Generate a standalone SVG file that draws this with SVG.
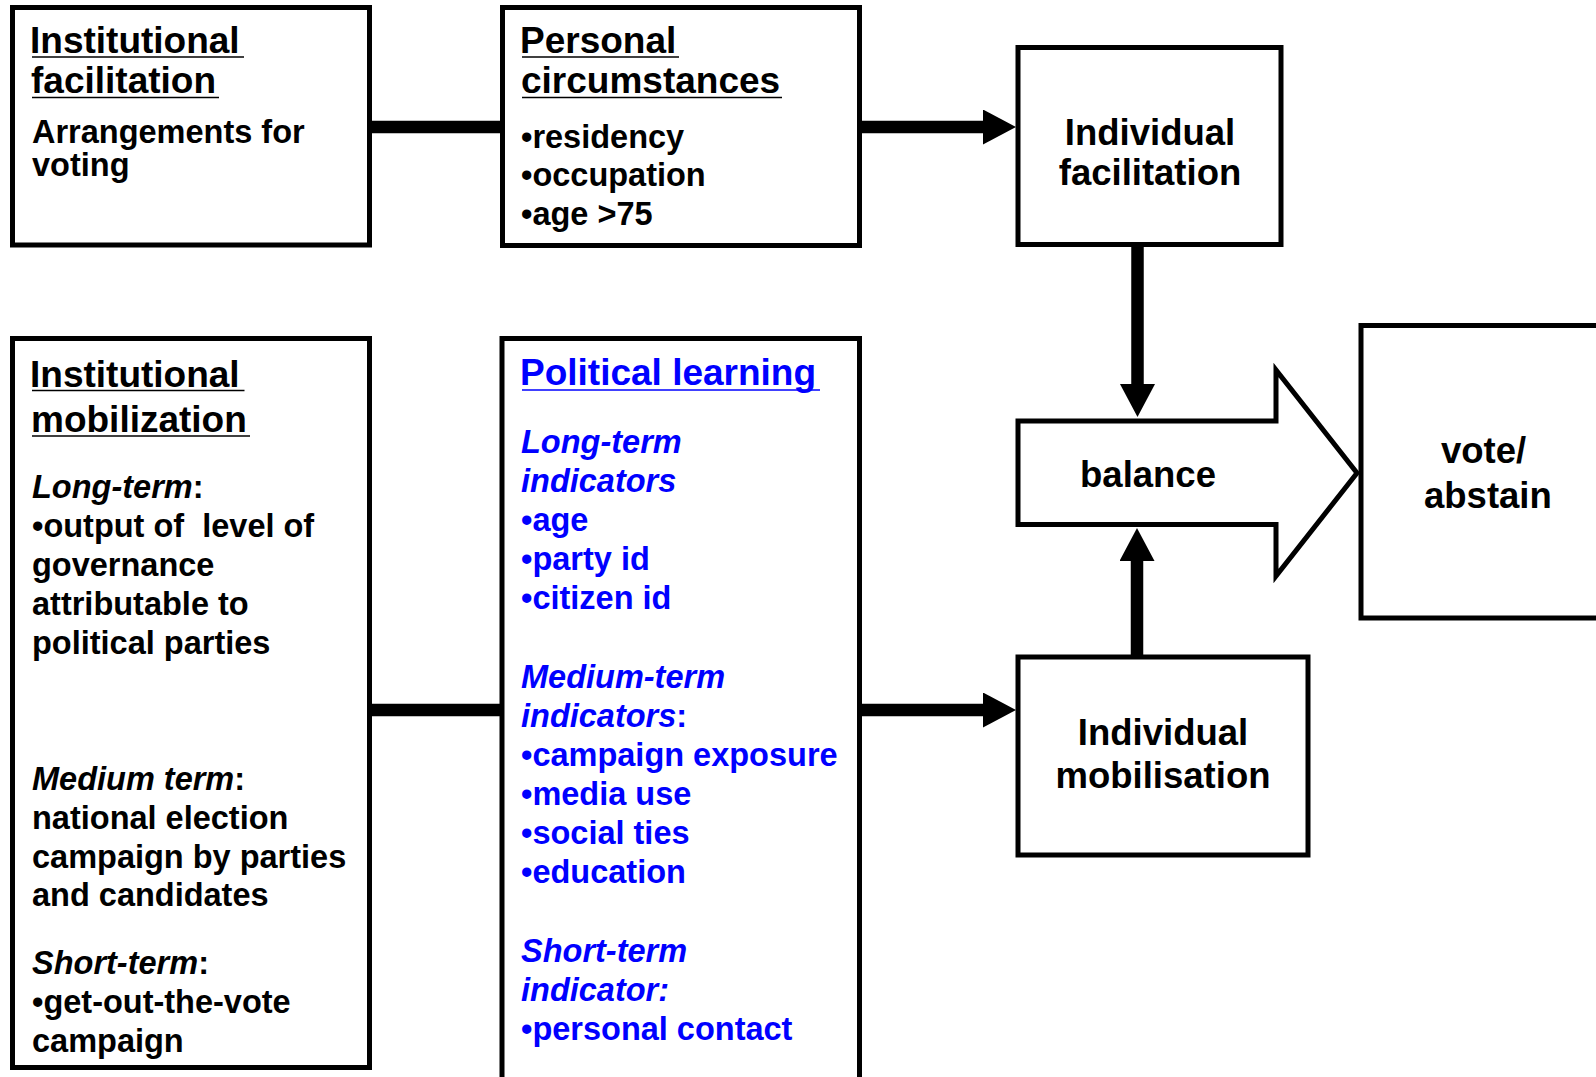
<svg xmlns="http://www.w3.org/2000/svg" width="1596" height="1077" viewBox="0 0 1596 1077">
<style>
.t{font-family:"Liberation Sans",Arial,sans-serif;font-weight:bold;fill:#000}
.ti{font-size:37px}
.bd{font-size:32.5px}
.lb{font-size:36.5px;text-anchor:middle}
.bl{fill:#0000ff}
.it{font-style:italic}
.box{fill:#fff;stroke:#000;stroke-width:5}
.ul{stroke:#000;stroke-width:1.6}
.ulb{stroke:#0000ff;stroke-width:1.6}
.conn{stroke:#000;stroke-width:12.5;fill:none}
</style>
<defs>
<marker id="ah" markerUnits="userSpaceOnUse" markerWidth="34" markerHeight="36" refX="1" refY="17.5" orient="auto">
<path d="M0,0 L33,17.5 L0,35 Z" fill="#000"/>
</marker>
</defs>
<rect width="1596" height="1077" fill="#fff"/>

<g id="connectors">
<line class="conn" x1="370" y1="127" x2="502" y2="127"/>
<line class="conn" x1="860" y1="127" x2="984" y2="127" marker-end="url(#ah)"/>
<line class="conn" x1="370" y1="710" x2="502" y2="710"/>
<line class="conn" x1="860" y1="710" x2="984" y2="710" marker-end="url(#ah)"/>
<line class="conn" x1="1137.5" y1="245" x2="1137.5" y2="385" marker-end="url(#ah)"/>
<line class="conn" x1="1137" y1="656" x2="1137" y2="560" marker-end="url(#ah)"/>
</g>

<g id="inst-facilitation">
<rect class="box" x="12.5" y="7.5" width="357" height="237.5"/>
<text class="t ti" x="30" y="53">Institutional</text>
<line class="ul" x1="32" y1="57" x2="244" y2="57"/>
<text class="t ti" x="31" y="93">facilitation</text>
<line class="ul" x1="32" y1="97.5" x2="219" y2="97.5"/>
<text class="t bd" x="32" y="143">Arrangements for</text>
<text class="t bd" x="32" y="176">voting</text>
</g>

<g id="personal-circumstances">
<rect class="box" x="502.5" y="7.5" width="357" height="238"/>
<text class="t ti" x="520" y="53">Personal</text>
<line class="ul" x1="522" y1="57" x2="679" y2="57"/>
<text class="t ti" x="521" y="93">circumstances</text>
<line class="ul" x1="522" y1="97.5" x2="782" y2="97.5"/>
<text class="t bd" x="521" y="147.5">•residency</text>
<text class="t bd" x="521" y="186">•occupation</text>
<text class="t bd" x="521" y="224.5">•age &gt;75</text>
</g>

<g id="inst-mobilization">
<rect class="box" x="12.5" y="338.5" width="357" height="729"/>
<text class="t ti" x="30" y="386.5">Institutional</text>
<line class="ul" x1="32" y1="390.5" x2="244.5" y2="390.5"/>
<text class="t ti" x="31" y="431.5">mobilization</text>
<line class="ul" x1="32" y1="436" x2="250" y2="436"/>
<text class="t bd" x="32" y="498"><tspan class="it">Long-term</tspan>:</text>
<text class="t bd" x="32" y="537">•output of&#160; level of</text>
<text class="t bd" x="32" y="576">governance</text>
<text class="t bd" x="32" y="615">attributable to</text>
<text class="t bd" x="32" y="654">political parties</text>
<text class="t bd" x="32" y="790"><tspan class="it">Medium term</tspan>:</text>
<text class="t bd" x="32" y="829">national election</text>
<text class="t bd" x="32" y="867.5">campaign by parties</text>
<text class="t bd" x="32" y="906">and candidates</text>
<text class="t bd" x="32" y="974"><tspan class="it">Short-term</tspan>:</text>
<text class="t bd" x="32" y="1013">•get-out-the-vote</text>
<text class="t bd" x="32" y="1052">campaign</text>
</g>

<g id="political-learning">
<rect class="box" x="502" y="338.5" width="357.5" height="800"/>
<text class="t ti bl" x="520" y="385">Political learning</text>
<line class="ulb" x1="522" y1="390" x2="820" y2="390"/>
<text class="t bd bl it" x="521" y="453">Long-term</text>
<text class="t bd bl it" x="521" y="492">indicators</text>
<text class="t bd bl" x="521" y="531">•age</text>
<text class="t bd bl" x="521" y="570">•party id</text>
<text class="t bd bl" x="521" y="609">•citizen id</text>
<text class="t bd bl it" x="521" y="688">Medium-term</text>
<text class="t bd bl" x="521" y="727"><tspan class="it">indicators</tspan>:</text>
<text class="t bd bl" x="521" y="766">•campaign exposure</text>
<text class="t bd bl" x="521" y="805">•media use</text>
<text class="t bd bl" x="521" y="844">•social ties</text>
<text class="t bd bl" x="521" y="883">•education</text>
<text class="t bd bl it" x="521" y="962">Short-term</text>
<text class="t bd bl it" x="521" y="1001">indicator:</text>
<text class="t bd bl" x="521" y="1040">•personal contact</text>
</g>

<g id="individual-facilitation">
<rect class="box" x="1018" y="47.5" width="263" height="197"/>
<text class="t lb" x="1150" y="145">Individual</text>
<text class="t lb" x="1150" y="185">facilitation</text>
</g>

<g id="balance">
<path class="box" d="M1018,421 L1276,421 L1276,370 L1357,473 L1276,576 L1276,524.5 L1018,524.5 Z"/>
<text class="t lb" x="1148" y="487">balance</text>
</g>

<g id="vote-abstain">
<rect class="box" x="1361" y="325.5" width="300" height="292.5"/>
<text class="t bd" style="font-size:36.5px" x="1441" y="463">vote/</text>
<text class="t bd" style="font-size:36.5px" x="1424" y="508">abstain</text>
</g>

<g id="individual-mobilisation">
<rect class="box" x="1018" y="657" width="290" height="198"/>
<text class="t lb" x="1163" y="745">Individual</text>
<text class="t lb" x="1163" y="788">mobilisation</text>
</g>
</svg>
